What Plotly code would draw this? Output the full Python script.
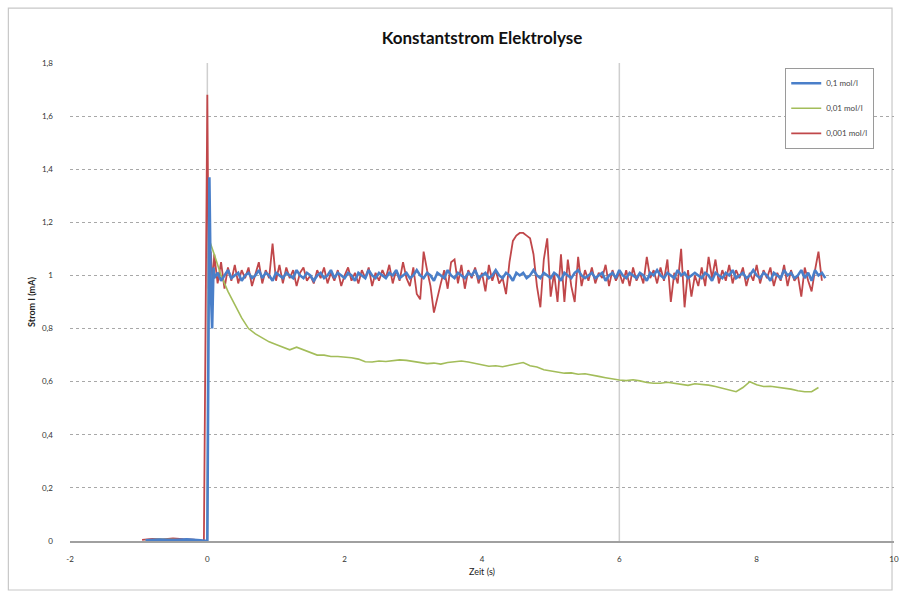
import plotly.graph_objects as go

# ---- measured current traces (time in s, current in mA) ----
# start-up section: idle baseline before switching on, then the switch-on spike
START_T_RED = [-0.95, -0.8, -0.65, -0.5, -0.35, -0.2, -0.05, 0.0, 0.02, 0.05, 0.08]
START_I_RED = [0.004, 0.008, 0.006, 0.010, 0.007, 0.005, 0.0, 1.68, 0.95, 1.09, 0.96]

START_T_BLUE = [-0.9, -0.7, -0.5, -0.3, -0.1, 0.0, 0.03, 0.05, 0.07, 0.09]
START_I_BLUE = [0.003, 0.005, 0.004, 0.006, 0.003, 0.0, 1.37, 0.95, 0.80, 1.03]

START_T_GREEN = [-0.9, -0.7, -0.5, -0.3, -0.1, 0.0, 0.02, 0.05]
START_I_GREEN = [0.004, 0.006, 0.005, 0.004, 0.003, 0.0, 1.14, 1.12]

# steady section, sampled at a constant interval
RED_T0, RED_DT = 0.10, 0.05
RED_I = [
    1.08, 0.97, 1.05, 0.95, 1.03, 0.98, 1.04, 0.97, 1.02, 0.99,
    1.03, 0.96, 1.01, 1.05, 0.97, 1.02, 0.99, 1.12, 0.98, 1.04,
    0.97, 1.03, 0.99, 1.02, 0.96, 1.01, 1.03, 0.98, 1.00, 0.97,
    1.02, 0.99, 1.03, 0.97, 1.01, 0.98, 1.02, 0.96, 1.00, 1.03,
    0.98, 1.01, 0.97, 1.02, 0.99, 1.03, 0.96, 1.01, 0.98, 1.02,
    0.99, 1.04, 0.97, 1.02, 0.98, 1.05, 0.99, 0.96, 1.03, 0.93,
    0.91, 1.09, 1.02, 0.96, 0.86, 0.92, 0.97, 1.02, 0.95, 1.05,
    1.06, 0.97, 1.04, 0.95, 1.02, 0.99, 1.03, 0.97, 1.01, 0.94,
    1.04, 0.98, 1.02, 0.97, 0.99, 0.93, 1.05, 1.13, 1.15, 1.16,
    1.16, 1.15, 1.14, 1.08, 0.96, 0.88, 1.06, 1.14, 0.92, 1.01,
    0.90, 1.08, 0.90, 1.06, 0.96, 0.90, 1.07, 0.96, 1.02, 0.98,
    1.03, 0.97, 1.01, 0.99, 1.04, 0.96, 1.02, 0.98, 1.01, 0.97,
    1.02, 0.96, 1.03, 0.98, 1.01, 0.97, 1.07, 0.99, 1.02, 0.97,
    1.03, 0.98, 1.06, 0.90, 1.01, 0.97, 1.10, 0.88, 1.02, 0.92,
    1.00, 0.96, 1.03, 0.96, 1.07, 0.99, 1.06, 0.97, 1.02, 0.98,
    1.04, 0.97, 1.02, 0.99, 1.03, 0.96, 1.01, 0.98, 1.04, 0.97,
    1.02, 0.99, 1.03, 0.96, 1.01, 0.98, 1.04, 0.96, 1.02, 0.98,
    1.00, 0.92, 1.03, 0.98, 0.94, 1.02, 1.09, 0.98,
]

BLUE_T0, BLUE_DT = 0.10, 0.05
BLUE_I = [
    0.99, 1.01, 0.98, 1.00, 1.02, 0.99, 1.00, 1.01, 0.98, 1.00,
    1.01, 0.99, 1.00, 1.02, 0.99, 1.01, 1.00, 0.98, 1.01, 1.00,
    0.99, 1.01, 1.00, 0.99, 1.02, 1.00, 0.99, 1.01, 1.00, 0.98,
    1.00, 1.01, 0.99, 1.00, 1.02, 0.99, 1.01, 1.00, 0.99, 1.01,
    1.00, 0.98, 1.01, 1.00, 0.99, 1.02, 1.00, 0.99, 1.01, 1.00,
    0.99, 1.01, 1.00, 1.02, 0.99, 1.00, 1.01, 0.99, 1.00, 1.02,
    1.00, 0.99, 1.01, 1.00, 0.98, 1.01, 1.00, 0.99, 1.02, 1.00,
    0.99, 1.01, 1.00, 0.99, 1.01, 1.00, 1.02, 0.99, 1.00, 1.01,
    0.99, 1.00, 1.02, 1.00, 0.99, 1.01, 1.00, 0.98, 1.01, 1.00,
    1.01, 0.99, 1.00, 1.02, 1.00, 0.99, 1.01, 1.00, 0.99, 1.01,
    1.00, 0.98, 1.01, 1.00, 0.99, 1.01, 1.02, 1.00, 0.99, 1.00,
    1.01, 0.99, 1.00, 1.01, 0.98, 1.00, 1.01, 0.99, 1.02, 1.00,
    0.99, 1.01, 1.00, 0.99, 1.01, 1.00, 0.98, 1.01, 1.00, 1.02,
    1.00, 0.99, 1.01, 1.00, 0.99, 1.02, 1.00, 1.01, 0.99, 1.00,
    1.01, 1.00, 0.99, 1.01, 1.00, 0.98, 1.01, 1.00, 0.99, 1.01,
    1.00, 1.02, 0.99, 1.00, 1.01, 0.99, 1.00, 1.02, 1.00, 0.99,
    1.01, 1.00, 0.98, 1.01, 1.00, 0.99, 1.02, 1.00, 1.01, 0.99,
    1.00, 1.02, 0.99, 1.01, 0.98, 1.02, 1.00, 1.01, 0.99,
]

GREEN_T0, GREEN_DT = 0.10, 0.10
GREEN_I = [
    1.08, 1.00, 0.94, 0.89, 0.84, 0.80, 0.78, 0.765, 0.75, 0.74,
    0.73, 0.72, 0.73, 0.72, 0.71, 0.70, 0.70, 0.695, 0.695, 0.693,
    0.69, 0.685, 0.675, 0.674, 0.678, 0.676, 0.68, 0.682, 0.68, 0.676,
    0.672, 0.668, 0.67, 0.666, 0.672, 0.676, 0.678, 0.674, 0.668, 0.664,
    0.658, 0.66, 0.656, 0.662, 0.668, 0.672, 0.66, 0.655, 0.645, 0.64,
    0.636, 0.632, 0.633, 0.628, 0.63, 0.624, 0.62, 0.615, 0.61, 0.606,
    0.604, 0.607, 0.603, 0.597, 0.594, 0.594, 0.598, 0.594, 0.588, 0.586,
    0.592, 0.59, 0.587, 0.582, 0.575, 0.568, 0.562, 0.578, 0.60, 0.588,
    0.582, 0.583, 0.58, 0.576, 0.572, 0.566, 0.562, 0.562, 0.578,
]

SERIES_NAMES = ["0,1 mol/l", "0,01 mol/l", "0,001 mol/l"]

X_TICKS = [-2, 0, 2, 4, 6, 8, 10]
X_TICK_TEXT = ["-2", "0", "2", "4", "6", "8", "10"]
Y_TICKS = [0, 0.2, 0.4, 0.6, 0.8, 1.0, 1.2, 1.4, 1.6, 1.8]
Y_TICK_TEXT = ["0", "0,2", "0,4", "0,6", "0,8", "1", "1,2", "1,4", "1,6", "1,8"]
X_MARKERS = [0, 6]


def series(start_t, start_i, t0, dt, values):
    t = list(start_t) + [round(t0 + k * dt, 3) for k in range(len(values))]
    return t, list(start_i) + list(values)


t_red, i_red = series(START_T_RED, START_I_RED, RED_T0, RED_DT, RED_I)
t_blue, i_blue = series(START_T_BLUE, START_I_BLUE, BLUE_T0, BLUE_DT, BLUE_I)
t_green, i_green = series(START_T_GREEN, START_I_GREEN, GREEN_T0, GREEN_DT, GREEN_I)

BLUE = "#4a7fc9"
RED = "#c0474a"
GREEN = "#a3bd5a"

fig = go.Figure()
fig.add_trace(go.Scatter(x=t_red, y=i_red, mode="lines", name=SERIES_NAMES[2],
                         line=dict(color=RED, width=1.8), legendrank=3))
fig.add_trace(go.Scatter(x=t_green, y=i_green, mode="lines", name=SERIES_NAMES[1],
                         line=dict(color=GREEN, width=1.6), legendrank=2))
fig.add_trace(go.Scatter(x=t_blue, y=i_blue, mode="lines", name=SERIES_NAMES[0],
                         line=dict(color=BLUE, width=2.6), legendrank=1))

for xv in X_MARKERS:
    fig.add_vline(x=xv, line=dict(color="#cfcfcf", width=1.5), layer="below")

# outer chart frame
fig.add_shape(type="rect", xref="paper", yref="paper",
              x0=-0.0748, x1=0.9976, y0=-0.1025, y1=1.115,
              line=dict(color="#c8c8c8", width=1.2), layer="below")

fig.update_layout(
    width=904, height=592,
    margin=dict(l=70, r=5, t=63, b=51),
    paper_bgcolor="white", plot_bgcolor="white",
    font=dict(family="Lato, 'Open Sans', sans-serif", color="#333333"),
    title=dict(text="<b>Konstantstrom Elektrolyse</b>", x=0.5, xref="paper",
               y=1 - 38 / 592, yref="container", yanchor="middle",
               font=dict(size=17, color="#111111")),
    showlegend=True,
    legend=dict(x=0.868, y=0.99, xanchor="left", yanchor="top",
                bgcolor="white", bordercolor="#9a9a9a", borderwidth=1,
                font=dict(size=8, color="#444444"),
                tracegroupgap=6, itemwidth=30),
    xaxis=dict(range=[-2, 10], tickvals=X_TICKS, ticktext=X_TICK_TEXT,
               showgrid=False, zeroline=False, showline=True,
               linecolor="#a0a0a0", linewidth=2, ticks="",
               tickfont=dict(size=8, color="#333333"),
               ticklabelstandoff=9,
               title=dict(text="Zeit (s)", font=dict(size=9, color="#222222"),
                          standoff=6)),
    yaxis=dict(range=[0, 1.8], tickvals=Y_TICKS, ticktext=Y_TICK_TEXT,
               showgrid=True, gridcolor="#a8a8a8", griddash="dot", gridwidth=1,
               zeroline=False, showline=False, ticks="",
               tickfont=dict(size=8, color="#333333"),
               ticklabelstandoff=16,
               title=dict(text="<b>Strom I (mA)</b>",
                          font=dict(size=9, color="#222222"), standoff=4)),
)

# keep each series on its own legend row with Excel-like spacing
for k, tr in enumerate(fig.data):
    tr.legendgroup = f"g{k}"

fig.write_html("out.html")
